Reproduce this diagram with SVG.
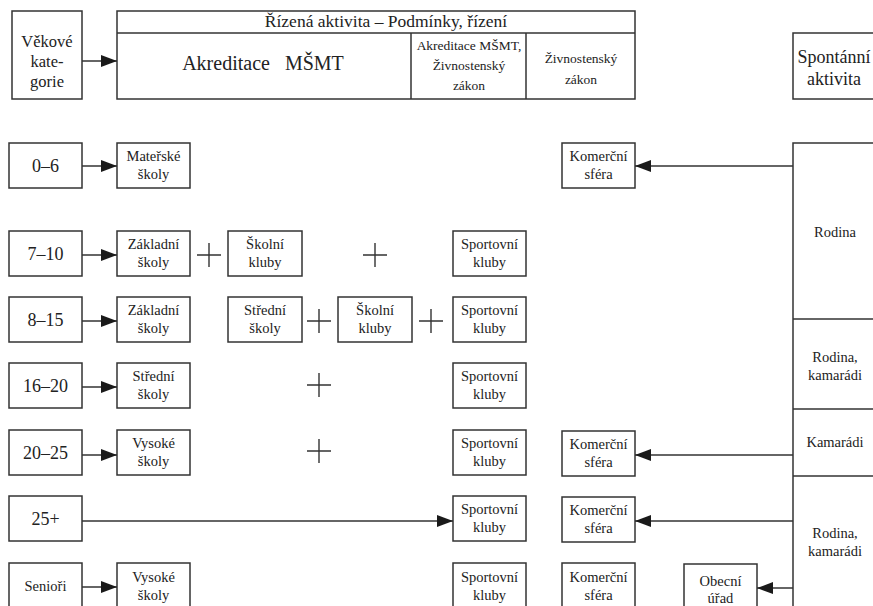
<svg xmlns="http://www.w3.org/2000/svg" width="873" height="606" viewBox="0 0 873 606">
<defs>
<marker id="ah" markerUnits="userSpaceOnUse" markerWidth="17" markerHeight="13" refX="16" refY="6" orient="auto">
<path d="M0,0 L16,6 L0,12 z" fill="#1a1a1a"/>
</marker>
<style>
rect{fill:#fff;stroke:#333;stroke-width:1.5}
.ln{stroke:#333;stroke-width:1.5;fill:none}
.ar{stroke:#333;stroke-width:1.5;fill:none;marker-end:url(#ah)}
.pl{stroke:#333;stroke-width:1.4;fill:none}
text{font-family:"Liberation Serif","Times New Roman",serif;fill:#222;text-anchor:middle}
.s{font-size:14.5px}
.a{font-size:18px}
.h{font-size:17.5px}
.v{font-size:16.5px}
</style>
</defs>
<rect width="873" height="606" style="fill:#fff;stroke:none"/>

<g id="vekove">
<rect x="12" y="11" width="70" height="88"/>
<text class="v" x="47" y="47">Věkové</text>
<text class="v" x="47" y="67">kate-</text>
<text class="v" x="47" y="87">gorie</text>
</g>

<g id="rizena">
<rect x="117" y="11" width="518" height="88"/>
<line class="ln" x1="117" y1="33" x2="635" y2="33"/>
<line class="ln" x1="411" y1="33" x2="411" y2="99"/>
<line class="ln" x1="526" y1="33" x2="526" y2="99"/>
<text class="h" x="386" y="27">Řízená aktivita – Podmínky, řízení</text>
<text x="263" y="70" style="font-size:20px" xml:space="preserve">Akreditace   MŠMT</text>
<text x="469" y="50" style="font-size:13.5px">Akreditace MŠMT,</text>
<text x="469" y="70" style="font-size:13.5px">Živnostenský</text>
<text x="469" y="90" style="font-size:13.5px">zákon</text>
<text x="581" y="63" style="font-size:13.5px">Živnostenský</text>
<text x="581" y="84" style="font-size:13.5px">zákon</text>
</g>

<g id="spontanni">
<rect x="793" y="33" width="120" height="66"/>
<text x="834" y="63" style="font-size:18px">Spontánní</text>
<text x="834" y="85" style="font-size:18px">aktivita</text>
</g>

<g id="spontanni-sloupec">
<rect x="793" y="143" width="120" height="500"/>
<line class="ln" x1="793" y1="319" x2="873" y2="319"/>
<line class="ln" x1="793" y1="409" x2="873" y2="409"/>
<line class="ln" x1="793" y1="476" x2="873" y2="476"/>
<text class="s" x="835" y="237">Rodina</text>
<text class="s" x="835" y="362">Rodina,</text>
<text class="s" x="835" y="380">kamarádi</text>
<text class="s" x="835" y="447">Kamarádi</text>
<text class="s" x="835" y="538">Rodina,</text>
<text class="s" x="835" y="556">kamarádi</text>
</g>

<g id="age-0-6"><rect x="9" y="143" width="73" height="45"/><text class="a" x="45.5" y="172">0–6</text></g>
<g id="age-7-10"><rect x="9" y="231" width="73" height="45"/><text class="a" x="45.5" y="260">7–10</text></g>
<g id="age-8-15"><rect x="9" y="297" width="73" height="45"/><text class="a" x="45.5" y="326">8–15</text></g>
<g id="age-16-20"><rect x="9" y="363" width="73" height="45"/><text class="a" x="45.5" y="392">16–20</text></g>
<g id="age-20-25"><rect x="9" y="430" width="73" height="45"/><text class="a" x="45.5" y="459">20–25</text></g>
<g id="age-25plus"><rect x="9" y="496" width="73" height="45"/><text class="a" x="45.5" y="525">25+</text></g>
<g id="age-seniori"><rect x="9" y="563" width="73" height="60"/><text class="s" x="45.5" y="591">Senioři</text></g>

<g id="materske"><rect x="117" y="143" width="73" height="45"/><text class="s" x="153.5" y="161">Mateřské</text><text class="s" x="153.5" y="179">školy</text></g>
<g id="zakladni-1"><rect x="117" y="231" width="73" height="45"/><text class="s" x="153.5" y="249">Základní</text><text class="s" x="153.5" y="267">školy</text></g>
<g id="zakladni-2"><rect x="117" y="297" width="73" height="45"/><text class="s" x="153.5" y="315">Základní</text><text class="s" x="153.5" y="333">školy</text></g>
<g id="stredni-1"><rect x="117" y="363" width="73" height="45"/><text class="s" x="153.5" y="381">Střední</text><text class="s" x="153.5" y="399">školy</text></g>
<g id="vysoke-1"><rect x="117" y="430" width="73" height="45"/><text class="s" x="153.5" y="448">Vysoké</text><text class="s" x="153.5" y="466">školy</text></g>
<g id="vysoke-2"><rect x="117" y="563" width="73" height="60"/><text class="s" x="153.5" y="582">Vysoké</text><text class="s" x="153.5" y="600">školy</text></g>

<g id="skolni-kluby-1"><rect x="228" y="231" width="74" height="45"/><text class="s" x="265" y="249">Školní</text><text class="s" x="265" y="267">kluby</text></g>
<g id="stredni-2"><rect x="228" y="297" width="74" height="45"/><text class="s" x="265" y="315">Střední</text><text class="s" x="265" y="333">školy</text></g>
<g id="skolni-kluby-2"><rect x="338" y="297" width="74" height="45"/><text class="s" x="375" y="315">Školní</text><text class="s" x="375" y="333">kluby</text></g>

<g id="sport-1"><rect x="453" y="231" width="73" height="45"/><text class="s" x="489.5" y="249">Sportovní</text><text class="s" x="489.5" y="267">kluby</text></g>
<g id="sport-2"><rect x="453" y="297" width="73" height="45"/><text class="s" x="489.5" y="315">Sportovní</text><text class="s" x="489.5" y="333">kluby</text></g>
<g id="sport-3"><rect x="453" y="363" width="73" height="45"/><text class="s" x="489.5" y="381">Sportovní</text><text class="s" x="489.5" y="399">kluby</text></g>
<g id="sport-4"><rect x="453" y="430" width="73" height="45"/><text class="s" x="489.5" y="448">Sportovní</text><text class="s" x="489.5" y="466">kluby</text></g>
<g id="sport-5"><rect x="453" y="496" width="73" height="45"/><text class="s" x="489.5" y="514">Sportovní</text><text class="s" x="489.5" y="532">kluby</text></g>
<g id="sport-6"><rect x="453" y="563" width="73" height="60"/><text class="s" x="489.5" y="582">Sportovní</text><text class="s" x="489.5" y="600">kluby</text></g>

<g id="komercni-1"><rect x="562" y="143" width="73" height="45"/><text class="s" x="598.5" y="161">Komerční</text><text class="s" x="598.5" y="179">sféra</text></g>
<g id="komercni-2"><rect x="562" y="431" width="73" height="45"/><text class="s" x="598.5" y="449">Komerční</text><text class="s" x="598.5" y="467">sféra</text></g>
<g id="komercni-3"><rect x="562" y="497" width="73" height="45"/><text class="s" x="598.5" y="515">Komerční</text><text class="s" x="598.5" y="533">sféra</text></g>
<g id="komercni-4"><rect x="562" y="563" width="73" height="60"/><text class="s" x="598.5" y="582">Komerční</text><text class="s" x="598.5" y="600">sféra</text></g>
<g id="obecni-urad"><rect x="684" y="564" width="73" height="60"/><text class="s" x="720.5" y="586">Obecní</text><text class="s" x="720.5" y="603">úřad</text></g>

<g id="plus-signs">
<path class="pl" d="M197,255 H221 M209,243 V267"/>
<path class="pl" d="M363,255 H387 M375,243 V267"/>
<path class="pl" d="M307,321 H331 M319,309 V333"/>
<path class="pl" d="M419,321 H443 M431,309 V333"/>
<path class="pl" d="M307,385 H331 M319,373 V397"/>
<path class="pl" d="M307,451 H331 M319,439 V463"/>
</g>

<g id="connectors">
<line class="ar" x1="82" y1="61" x2="117" y2="61"/>
<line class="ar" x1="82" y1="166" x2="117" y2="166"/>
<line class="ar" x1="82" y1="255" x2="117" y2="255"/>
<line class="ar" x1="82" y1="321" x2="117" y2="321"/>
<line class="ar" x1="82" y1="387" x2="117" y2="387"/>
<line class="ar" x1="82" y1="455" x2="117" y2="455"/>
<line class="ar" x1="82" y1="521" x2="453" y2="521"/>
<line class="ar" x1="82" y1="587" x2="117" y2="587"/>
<line class="ar" x1="793" y1="166" x2="635" y2="166"/>
<line class="ar" x1="793" y1="455" x2="635" y2="455"/>
<line class="ar" x1="793" y1="521" x2="635" y2="521"/>
<line class="ar" x1="793" y1="588" x2="757" y2="588"/>
</g>
</svg>
